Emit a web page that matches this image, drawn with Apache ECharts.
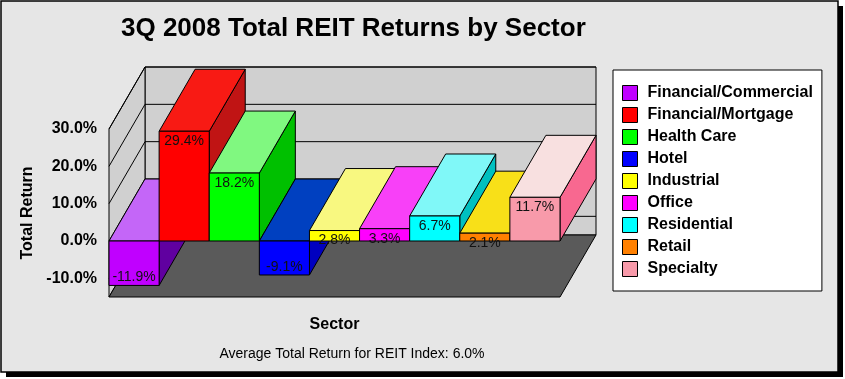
<!DOCTYPE html>
<html>
<head>
<meta charset="utf-8">
<script src="https://cdn.jsdelivr.net/npm/echarts@6/dist/echarts.min.js"></script>
<style>
html,body{margin:0;padding:0;background:#ffffff;}
#chart{width:845px;height:379px;}
</style>
</head>
<body>
<div id="chart"></div>
<script>
// ---- data ----
const categories = ['Financial/Commercial','Financial/Mortgage','Health Care','Hotel','Industrial','Office','Residential','Retail','Specialty'];
const returns = [-11.9, 29.4, 18.2, -9.1, 2.8, 3.3, 6.7, 2.1, 11.7];
const yTicks = [-10, 0, 10, 20, 30];
const yMin = -15;
const yMax = 30;
const avgReturn = 6.0;

// ---- styles ----
const frontColors = ['#c000ff','#ff0000','#00ff00','#0000ff','#ffff00','#ff00ff','#00ffff','#ff8000','#f89aaa'];
const topColors   = ['#c466f8','#f81a14','#80f880','#0040c0','#f8f880','#f840f8','#80f8f8','#f8e018','#f8e0e0'];
const sideColors  = ['#6000a0','#c01414','#00c000','#0000c0','#c0c000','#c000c0','#00c0c0','#c06000','#f86890'];
const DX = 36, DY = -62;
const FONT = "'Liberation Sans', Arial, sans-serif";

const chart = echarts.init(document.getElementById('chart'), null, {renderer:'canvas'});

function wallsRender(params, api){
  const bw = api.size([1,0])[0];
  const last = categories.length - 1;
  const xL = api.coord([0, yMin])[0] - bw/2;
  const xR = api.coord([last, yMin])[0] + bw/2;
  const yb = api.coord([0, yMin])[1];
  const yt = api.coord([0, yMax])[1];
  const children = [];
  const wallStyle = {fill:'#d0d0d0', stroke:'#000', lineWidth:1};
  children.push({type:'polygon', z2:1, shape:{points:[[xL+DX,yt+DY],[xR+DX,yt+DY],[xR+DX,yb+DY],[xL+DX,yb+DY]]}, style:wallStyle});
  children.push({type:'polygon', z2:1, shape:{points:[[xL,yt],[xL+DX,yt+DY],[xL+DX,yb+DY],[xL,yb]]}, style:wallStyle});
  children.push({type:'polygon', z2:2, shape:{points:[[xL,yb],[xR,yb],[xR+DX,yb+DY],[xL+DX,yb+DY]]}, style:{fill:'#5a5a5a', stroke:'#000', lineWidth:1}});
  yTicks.forEach(function(t){
    const y = api.coord([0, t])[1];
    children.push({type:'polyline', z2:3, shape:{points:[[xL,y],[xL+DX,y+DY],[xR+DX,y+DY]]}, style:{stroke:'#000', lineWidth:1, fill:null}});
  });
  return {type:'group', children:children};
}

function barRender(params, api){
  const i = api.value(0), v = api.value(1);
  const bw = api.size([1,0])[0];
  const cTop = api.coord([i, Math.max(v,0)]);
  const cBot = api.coord([i, Math.min(v,0)]);
  const x0 = cTop[0] - bw/2, x1 = cTop[0] + bw/2;
  const yT = cTop[1], yB = cBot[1];
  const base = 10 + i*10;
  const st = {stroke:'#000', lineWidth:1};
  return {type:'group', children:[
    {type:'polygon', z2:base+1, shape:{points:[[x1,yT],[x1+DX,yT+DY],[x1+DX,yB+DY],[x1,yB]]}, style:Object.assign({fill:sideColors[i]}, st)},
    {type:'polygon', z2:base+2, shape:{points:[[x0,yT],[x1,yT],[x1+DX,yT+DY],[x0+DX,yT+DY]]}, style:Object.assign({fill:topColors[i]}, st)},
    {type:'polygon', z2:base+3, shape:{points:[[x0,yT],[x1,yT],[x1,yB],[x0,yB]]}, style:Object.assign({fill:frontColors[i]}, st)},
    {type:'text', z2:500, style:{text:v.toFixed(1)+'%', x:(x0+x1)/2, y:(v>=0 ? yT+10 : yB-8), align:'center', verticalAlign:'middle', fill:'#111', font:'14px '+FONT}}
  ]};
}

const series = [{
  name:'walls', type:'custom', z:1, silent:true,
  data:[[0, yMin]], encode:{x:0, y:1}, renderItem:wallsRender
}];
categories.forEach(function(name, i){
  series.push({
    name:name, type:'custom', z:2, silent:true,
    itemStyle:{color:frontColors[i]},
    data:[[i, returns[i]]], encode:{x:0, y:1}, renderItem:barRender
  });
});

const option = {
  animation:false,
  backgroundColor:'#ffffff',
  graphic:[
    {type:'rect', z:-20, shape:{x:6, y:6, width:837, height:371}, style:{fill:'#000'}},
    {type:'rect', z:-10, shape:{x:1, y:1, width:837, height:371}, style:{fill:'#e6e6e6', stroke:'#000', lineWidth:1.5}},
    {type:'text', z:10, style:{text:'3Q 2008 Total REIT Returns by Sector', x:121, y:29, align:'left', verticalAlign:'middle', fill:'#000', font:'bold 26px '+FONT}},
    {type:'text', z:10, style:{text:'Average Total Return for REIT Index: ' + avgReturn.toFixed(1) + '%', x:352, y:354, align:'center', verticalAlign:'middle', fill:'#000', font:'14px '+FONT}}
  ],
  grid:{left:109, top:129, width:451, height:168, containLabel:false},
  xAxis:{
    type:'category', data:categories, boundaryGap:true,
    axisLine:{show:false}, axisTick:{show:false}, axisLabel:{show:false}, splitLine:{show:false},
    name:'Sector', nameLocation:'middle', nameGap:20,
    nameTextStyle:{fontWeight:'bold', fontSize:16, color:'#000', fontFamily:FONT}
  },
  yAxis:{
    type:'value', min:yMin, max:yMax,
    axisLine:{show:false}, axisTick:{show:false}, splitLine:{show:false},
    axisLabel:{customValues:yTicks, margin:12, fontWeight:'bold', fontSize:16, color:'#000', fontFamily:FONT,
      formatter:function(v){return v.toFixed(1)+'%';}},
    name:'Total Return', nameLocation:'middle', nameRotate:90, nameGap:70,
    nameTextStyle:{fontWeight:'bold', fontSize:16, color:'#000', fontFamily:FONT}
  },
  legend:{
    data:categories, orient:'vertical', left:613, top:70,
    padding:[15,9,14,9], backgroundColor:'#ffffff', borderColor:'#000', borderWidth:1,
    itemWidth:15, itemHeight:15, itemGap:6, icon:'rect', selectedMode:false,
    itemStyle:{borderColor:'#000', borderWidth:1},
    textStyle:{fontWeight:'bold', fontSize:16, color:'#000', fontFamily:FONT, padding:[0,0,0,5]}
  },
  series:series
};
chart.setOption(option);
</script>
</body>
</html>
